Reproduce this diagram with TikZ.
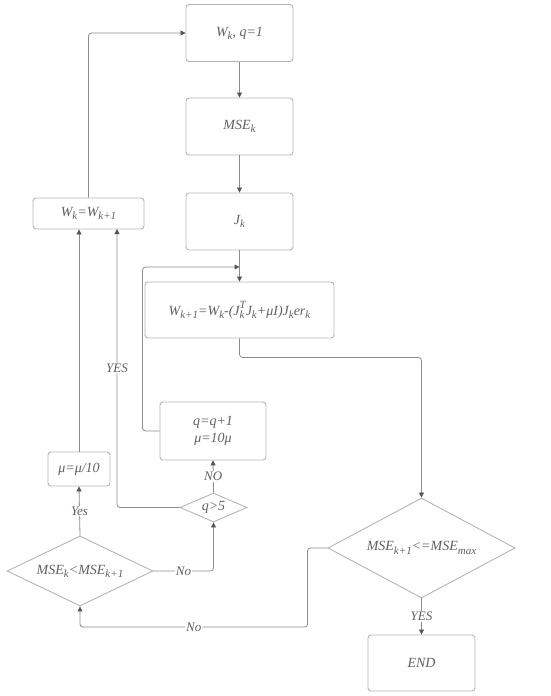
\documentclass[tikz,border=0pt]{standalone}
\usepackage{fontspec}
\setmainfont{Liberation Serif}
\usetikzlibrary{arrows.meta,shapes.geometric}
\definecolor{bx}{HTML}{B4B4B4}
\definecolor{ln}{HTML}{8C8C8C}
\definecolor{ar}{HTML}{555555}
\definecolor{tx}{HTML}{606060}
\newcommand\sbs[1]{\raisebox{-0.5ex}{\fontsize{11}{11}\selectfont #1}}
\newcommand\sps[1]{\raisebox{1.15ex}{\fontsize{11}{11}\selectfont #1}}
\begin{document}
\begin{tikzpicture}[x=1pt,y=-1pt,
  box/.style={draw=bx,line width=0.9pt,rounded corners=3pt,font=\fontsize{14}{17}\selectfont\itshape,text=tx,align=center,inner sep=0pt},
  dec/.style={draw=bx,line width=0.9pt,diamond,font=\fontsize{14}{17}\selectfont\itshape,text=tx,inner sep=0pt},
  conn/.style={draw=ln,line width=0.8pt,rounded corners=3pt,-{Triangle[length=5pt,width=5pt,color=ar]}},
  lbl/.style={fill=white,inner sep=1pt,font=\fontsize{13}{15}\selectfont\itshape,text=tx}]
\useasboundingbox (0,0) rectangle (550,696);
\node[box,minimum width=107,minimum height=57] (b1) at (239.5,33) {W\sbs{k}, q=1};
\node[box,minimum width=107,minimum height=57] (b2) at (239.5,126.5) {MSE\sbs{k}};
\node[box,minimum width=107,minimum height=57] (b3) at (239.5,221.5) {J\sbs{k}};
\node[box,minimum width=189,minimum height=56] (b4) at (239.5,310) {W\sbs{k+1}=W\sbs{k}-(J\sbs{k}\kern-0.35em\sps{T}J\sbs{k}+μI)J\sbs{k}er\sbs{k}};
\node[box,minimum width=111,minimum height=31] (b5) at (88.5,213.5) {W\sbs{k}=W\sbs{k+1}};
\node[box,minimum width=106,minimum height=58] (b6) at (213,431) {q=q+1\\μ=10μ};
\node[box,minimum width=62,minimum height=34] (b7) at (79,469) {μ=μ/10};
\node[dec,aspect=2.3,minimum width=67,minimum height=29] (d1) at (213.5,507.5) {q>5};
\node[dec,aspect=2.1,minimum width=146,minimum height=70] (d2) at (80,571) {MSE\sbs{k}<MSE\sbs{k+1}};
\node[dec,aspect=1.87,minimum width=187,minimum height=100] (d3) at (421.5,548) {MSE\sbs{k+1}<=MSE\sbs{max}};
\node[box,minimum width=107,minimum height=56] (b8) at (421.5,663) {END};
\coordinate (j) at (239.5,267);
\coordinate (b5r) at (117,229);
\draw[conn] (b1) -- (b2);
\draw[conn] (b2) -- (b3);
\draw[conn] (b3) -- (b4);
\draw[conn] (b6.west) -- ++(-17,0) |- (j);
\draw[conn] (b4.south) -- ++(0,19) -| (d3.north);
\draw[conn] (d3.west) -- ++(-20,0) -- ++(0,79) -| node[lbl,pos=0.25] (l1) {No} (d2.south);
\draw[conn] (d3.south) -- node[lbl] (l2) {YES} (b8.north);
\draw[conn] (d2.north) -- node[lbl] (l3) {Yes} (b7.south);
\draw[conn] (b7.north) -- (b7.north |- b5.south);
\draw[conn] (d2.east) -| node[lbl,pos=0.25] (l4) {No} (d1.south);
\draw[conn] (d1.north) -- node[lbl] (l5) {NO} (b6.south);
\draw[conn] (d1.west) -| node[lbl,pos=0.75] (l6) {YES} (b5r);
\draw[conn] (b5.north) |- (b1.west);
\end{tikzpicture}
\end{document}
